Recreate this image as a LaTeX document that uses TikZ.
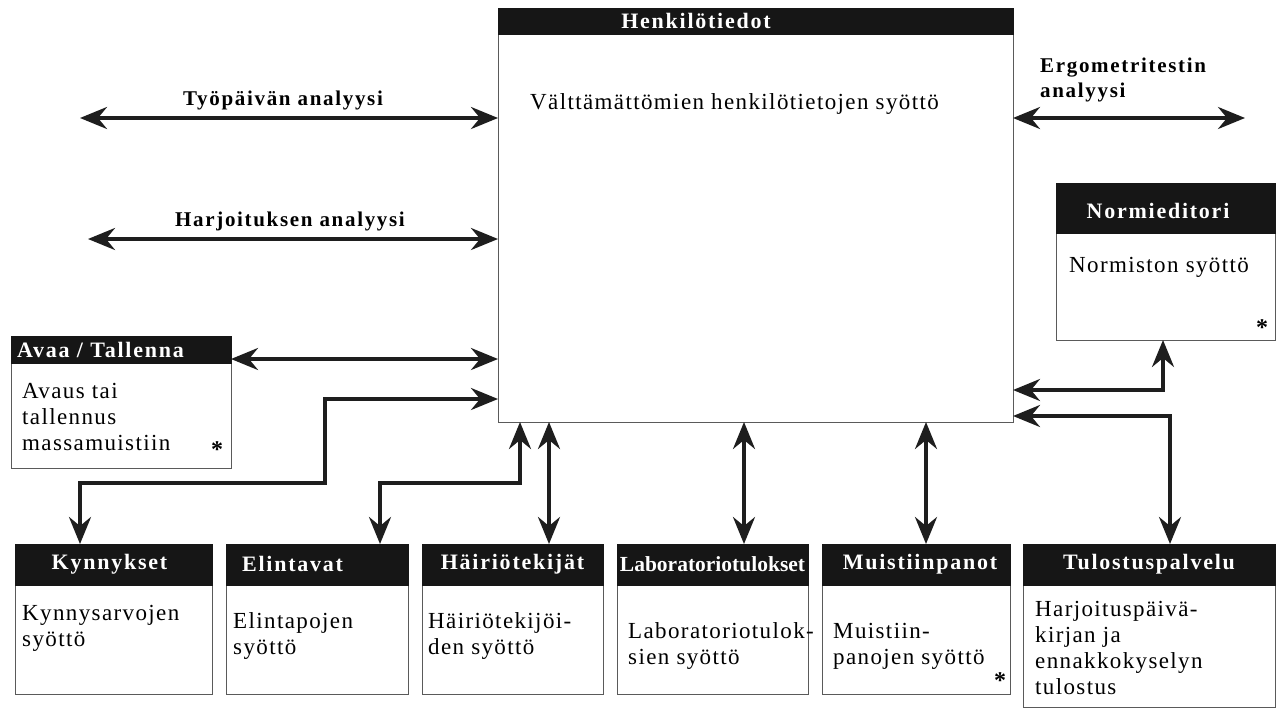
\documentclass[tikz,border=0pt]{standalone}
\usepackage{fontspec}
\setmainfont{Liberation Serif}
\newfontfamily\hdrfont[LetterSpace=8]{Liberation Serif}
\newfontfamily\bodyfont[LetterSpace=6]{Liberation Serif}
\newfontfamily\lblfont[LetterSpace=8]{Liberation Serif}
\usetikzlibrary{arrows.meta}
\definecolor{hdrc}{HTML}{161616}
\definecolor{arrc}{HTML}{1E1E1E}
\definecolor{brdc}{HTML}{5A5A5A}
\begin{document}
\begin{tikzpicture}[x=1pt,y=-1pt,
  box/.style={draw=brdc, line width=0.9pt, fill=white, inner sep=0pt, outer sep=0pt, anchor=north west},
  hdr/.style={fill=hdrc, draw=hdrc, line width=0.9pt, inner sep=0pt, outer sep=0pt, anchor=north west},
  hdrtext/.style={text=white, inner sep=0pt, font=\hdrfont\bfseries\fontsize{22}{24}\selectfont},
  body/.style={anchor=base west, align=left, inner sep=0pt, font=\bodyfont\fontsize{23}{26}\selectfont},
  lbl/.style={inner sep=0pt, font=\lblfont\bfseries\fontsize{21}{25}\selectfont},
  star/.style={inner sep=0pt, anchor=base, font=\bfseries\fontsize{24}{24}\selectfont},
  dbl/.style={draw=arrc, line width=3.6pt, {Stealth[length=27pt,width=22pt,inset=9pt]}-{Stealth[length=27pt,width=22pt,inset=9pt]}},
]
\useasboundingbox (0,0) rectangle (1282,709);
\fill[white] (0,0) rectangle (1282,709);

% ---------- main box ----------
\node[box, minimum width=515pt, minimum height=414pt] (main) at (498,8) {};
\node[hdr, minimum width=515pt, minimum height=26pt] (mainh) at (main.north west) {};
\node[hdrtext] (mainht) at (696,21) {Henkilötiedot};
\node[body] (maint) at (530,110) {Välttämättömien henkilötietojen syöttö};

% ---------- Normieditori ----------
\node[box, minimum width=219pt, minimum height=157pt] (nor) at (1056,183) {};
\node[hdr, minimum width=219pt, minimum height=50pt] (norh) at (nor.north west) {};
\node[hdrtext] (norht) at (1158,211) {Normieditori};
\node[body] (nort) at (1069,272) {Normiston syöttö};
\node[star] (nors) at (1262,335) {*};

% ---------- Avaa / Tallenna ----------
\node[box, minimum width=220pt, minimum height=132pt] (ava) at (11,336) {};
\node[hdr, minimum width=220pt, minimum height=27pt] (avah) at (ava.north west) {};
\node[hdrtext, anchor=west] (avaht) at (17,350) {Avaa / Tallenna};
\node[body] (avat) at (22,450) {Avaus tai\\tallennus\\massamuistiin};
\node[star] (avas) at (217,457) {*};

% ---------- bottom boxes ----------
\node[box, minimum width=197pt, minimum height=150pt] (kyn) at (15,544) {};
\node[hdr, minimum width=197pt, minimum height=41pt] (kynh) at (kyn.north west) {};
\node[hdrtext] (kynht) at ([xshift=-4pt]kynh.center) {Kynnykset};
\node[body] (kynt) at (22,646) {Kynnysarvojen\\syöttö};

\node[box, minimum width=182pt, minimum height=150pt] (eli) at (226,544) {};
\node[hdr, minimum width=182pt, minimum height=41pt] (elih) at (eli.north west) {};
\node[hdrtext, anchor=west] (eliht) at (242,564) {Elintavat};
\node[body] (elit) at (233,654) {Elintapojen\\syöttö};

\node[box, minimum width=181pt, minimum height=150pt] (hai) at (422,544) {};
\node[hdr, minimum width=181pt, minimum height=41pt] (haih) at (hai.north west) {};
\node[hdrtext] (haiht) at (haih.center) {Häiriötekijät};
\node[body] (hait) at (428,654) {Häiriötekijöi-\\den syöttö};

\node[box, minimum width=191pt, minimum height=150pt] (lab) at (617,544) {};
\node[hdr, minimum width=191pt, minimum height=41pt] (labh) at (lab.north west) {};
\node[hdrtext, font=\bfseries\fontsize{21.5}{23}\selectfont] (labht) at (labh.center) {Laboratoriotulokset};
\node[body] (labt) at (628,664) {Laboratoriotulok-\\sien syöttö};

\node[box, minimum width=188pt, minimum height=150pt] (mui) at (822,544) {};
\node[hdr, minimum width=188pt, minimum height=41pt] (muih) at (mui.north west) {};
\node[hdrtext] (muiht) at ([xshift=4pt]muih.center) {Muistiinpanot};
\node[body] (muit) at (833,664) {Muistiin-\\panojen syöttö};
\node[star] (muis) at (1000,688) {*};

\node[box, minimum width=252pt, minimum height=163pt] (tul) at (1023,544) {};
\node[hdr, minimum width=252pt, minimum height=41pt] (tulh) at (tul.north west) {};
\node[hdrtext] (tulht) at (tulh.center) {Tulostuspalvelu};
\node[body] (tult) at (1035,694) {Harjoituspäivä-\\kirjan ja\\ennakkokyselyn\\tulostus};

% ---------- free ends and bends ----------
\coordinate (tpL) at (80,118);
\coordinate (hjL) at (88,239);
\coordinate (erR) at (1245,118);
\coordinate (avY) at (0,359);
\coordinate (k1) at (80,483);
\coordinate (k2) at (325,399);
\coordinate (e1) at (380,483);
\coordinate (e2) at (520,483);
\coordinate (hX) at (549,0);
\coordinate (lX) at (744,0);
\coordinate (mX) at (926,0);
\coordinate (n1) at (1163,390);
\coordinate (t1) at (1170,416);

% ---------- labels ----------
\node[lbl] (tpLab) at (283,100) {Työpäivän analyysi};
\node[lbl] (hjLab) at (290,221) {Harjoituksen analyysi};
\node[lbl, anchor=base west, align=left] (erLab) at (1040,97) {Ergometritestin\\analyysi};

% ---------- connectors ----------
\draw[dbl] (tpL) -- (tpL -| main.west);
\draw[dbl] (hjL) -- (hjL -| main.west);
\draw[dbl] (erR -| main.east) -- (erR);
\draw[dbl] (ava.east |- avY) -- (avY -| main.west);
\draw[dbl] (kyn.north -| k1) -- (k1) -| (k2) -- (k2 -| main.west);
\draw[dbl] (eli.north -| e1) -- (e1) -- (e2) -- (e2 |- main.south);
\draw[dbl] (hai.north -| hX) -- (hX |- main.south);
\draw[dbl] (lab.north -| lX) -- (lX |- main.south);
\draw[dbl] (mui.north -| mX) -- (mX |- main.south);
\draw[dbl] (n1 -| main.east) -- (n1) -- (n1 |- nor.south);
\draw[dbl] (t1 -| main.east) -- (t1) -- (t1 |- tul.north);
\end{tikzpicture}
\end{document}
